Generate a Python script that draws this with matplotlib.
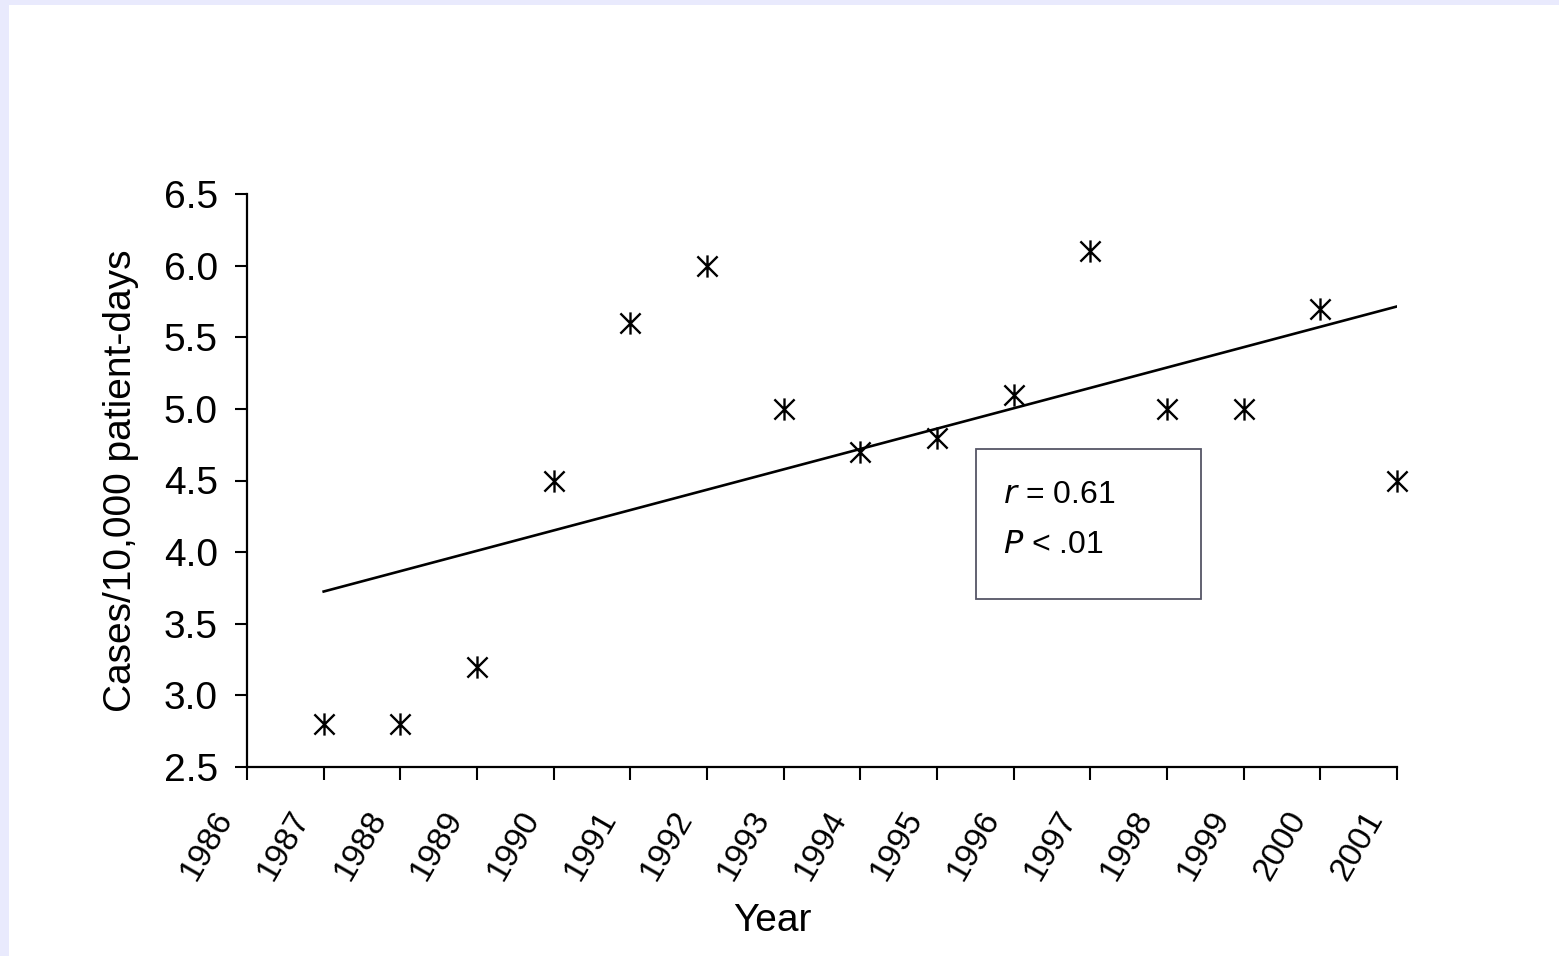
import numpy as np
import matplotlib
matplotlib.use("Agg")
import matplotlib.pyplot as plt
from matplotlib.path import Path
from matplotlib.patches import Rectangle
import matplotlib.transforms as mtransforms

plt.rcParams['font.family'] = ['Liberation Sans', 'DejaVu Sans']

# Data
years = [1987, 1988, 1989, 1990, 1991, 1992, 1993, 1994,
         1995, 1996, 1997, 1998, 1999, 2000, 2001]
rates = [2.8, 2.8, 3.2, 4.5, 5.6, 6.0, 5.0, 4.7,
         4.8, 5.1, 6.1, 5.0, 5.0, 5.7, 4.5]
xtick_years = list(range(1986, 2002))
yticks = [2.5, 3.0, 3.5, 4.0, 4.5, 5.0, 5.5, 6.0, 6.5]
ytick_labels = ["2.5", "3.0", "3.5", "4.0", "4.5", "5.0", "5.5", "6.0", "6.5"]
stats_text = ["$\\it{r}$ = 0.61", "$\\it{P}$ < .01"]

fig = plt.figure(figsize=(15.59, 9.56), dpi=100)
fig.patch.set_facecolor('white')

# lavender frame strips
fig.patches.append(Rectangle((0, 0), 9/1559, 1, transform=fig.transFigure,
                             facecolor='#E9EAFD', edgecolor='none', zorder=0))
fig.patches.append(Rectangle((0, 1 - 5/956), 1, 5/956, transform=fig.transFigure,
                             facecolor='#E9EAFD', edgecolor='none', zorder=0))

ax = fig.add_axes([247/1559, 1 - 767/956, (1397 - 247)/1559, (767 - 194)/956])
ax.set_xlim(1986, 2001)
ax.set_ylim(2.5, 6.5)

# marker: X with vertical bar
verts = [(-1, -1), (1, 1), (-1, 1), (1, -1), (0, -1.1), (0, 1.1)]
codes = [Path.MOVETO, Path.LINETO, Path.MOVETO, Path.LINETO, Path.MOVETO, Path.LINETO]
star = Path(verts, codes)

ax.plot(years, rates, linestyle='none', marker=star, markersize=16,
        markeredgewidth=1.7, color='black', clip_on=False, zorder=3)

# regression line
slope, intercept = np.polyfit(years, rates, 1)
xfit = np.array([years[0], years[-1]])
ax.plot(xfit, slope * xfit + intercept, color='black', lw=1.9, zorder=2)

# stats box
ax.add_patch(Rectangle((1995.51, 3.67), 2.93, 1.05, facecolor='white',
                       edgecolor='#555566', lw=1.3, zorder=4))
ax.text(1995.86, 4.40, stats_text[0], fontsize=23, va='center', ha='left', zorder=5)
ax.text(1995.86, 4.05, stats_text[1], fontsize=23, va='center', ha='left', zorder=5)

for s in ['top', 'right']:
    ax.spines[s].set_visible(False)
for s in ['left', 'bottom']:
    ax.spines[s].set_linewidth(1.6)

ax.set_xticks(xtick_years)
ax.set_xticklabels([str(y) for y in xtick_years], rotation=60, ha='right',
                   fontsize=24)
ax.set_yticks(yticks)
ax.set_yticklabels(ytick_labels, fontsize=28)
ax.tick_params(axis='x', direction='out', length=9, width=1.5, pad=19)
ax.tick_params(axis='y', direction='out', length=9, width=1.5, pad=12)

offset = mtransforms.ScaledTranslation(-8/100, 0, fig.dpi_scale_trans)
for lbl in ax.get_xticklabels():
    lbl.set_transform(lbl.get_transform() + offset)

ax.set_ylabel("Cases/10,000 patient-days", fontsize=28, labelpad=18)
ax.set_xlabel("Year", fontsize=28)
ax.xaxis.set_label_coords(0.457, -0.237)

fig.savefig("out.png", dpi=100)
